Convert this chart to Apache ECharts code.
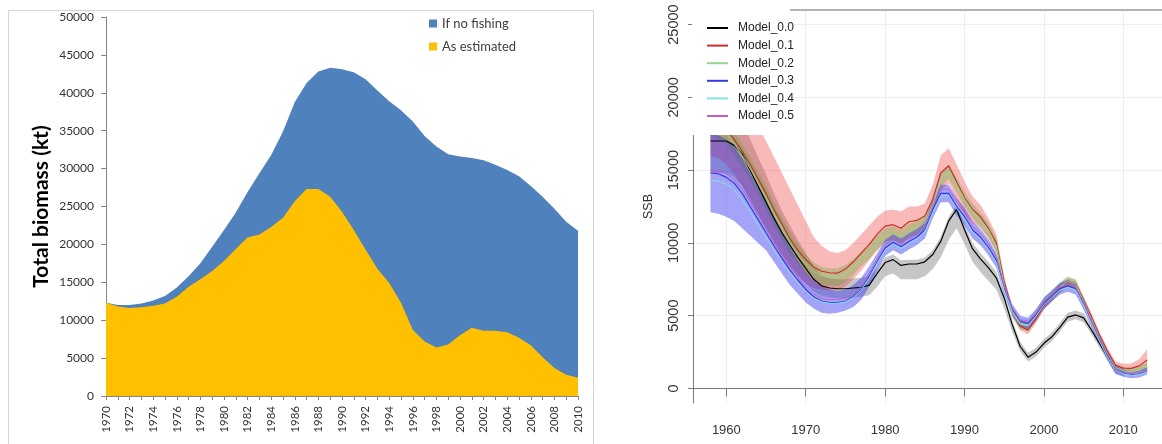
<!DOCTYPE html>
<html><head><meta charset="utf-8">
<script src="https://cdn.jsdelivr.net/npm/echarts@6/dist/echarts.min.js"></script>
<style>html,body{margin:0;padding:0;background:#fff}#c{width:1162px;height:444px}</style>
</head><body><div id="c"></div>
<script>
// ---------- Left panel data (1970-2010) ----------
const yearsL = ['1970','1971','1972','1973','1974','1975','1976','1977','1978','1979','1980','1981','1982','1983','1984','1985','1986','1987','1988','1989','1990','1991','1992','1993','1994','1995','1996','1997','1998','1999','2000','2001','2002','2003','2004','2005','2006','2007','2008','2009','2010'];
const noFishing = [12300,12000,12000,12200,12600,13200,14300,15800,17500,19700,21900,24200,26900,29400,31800,34900,38800,41300,42800,43300,43100,42700,41800,40300,38900,37700,36200,34300,32900,31900,31600,31400,31100,30500,29800,29000,27700,26300,24700,23000,21800];
const asEstimated = [12300,11800,11600,11700,11900,12200,13100,14400,15400,16500,17800,19400,20900,21300,22300,23500,25700,27300,27300,26300,24300,21900,19300,16800,14900,12300,8700,7200,6400,6800,8000,9000,8600,8600,8400,7700,6700,5100,3700,2800,2400];
const leftNames = ['If no fishing','As estimated'];

// ---------- Right panel data (1958-2013) ----------
const yearsR = [1958,1959,1960,1961,1962,1963,1964,1965,1966,1967,1968,1969,1970,1971,1972,1973,1974,1975,1976,1977,1978,1979,1980,1981,1982,1983,1984,1985,1986,1987,1988,1989,1990,1991,1992,1993,1994,1995,1996,1997,1998,1999,2000,2001,2002,2003,2004,2005,2006,2007,2008,2009,2010,2011,2012,2013];
const modelNames = ['Model_0.0','Model_0.1','Model_0.2','Model_0.3','Model_0.4','Model_0.5'];
const xTicksR = [1960,1970,1980,1990,2000,2010];
const yTicksR = [0,5000,10000,15000,20000,25000];

// Model_0.0 (1958-2010)
const m0 = [17000,17000,17000,16700,16100,15000,13900,12800,11700,10700,9850,9000,8250,7500,7050,6900,6850,6850,6900,6950,7100,7900,8650,8850,8450,8550,8550,8700,9200,10100,11500,12300,10900,9600,8900,8300,7600,6200,4400,2900,2150,2500,3100,3550,4200,4900,5050,4850,4000,3100,2200,1300,1050];
const m0lo = [14800,14800,14800,14500,13900,12900,11900,10900,10000,9200,8500,7800,7200,6650,6350,6250,6200,6200,6250,6300,6400,7000,7700,7900,7500,7500,7500,7700,8200,9000,10200,11000,9900,8700,8000,7400,6800,5500,3900,2550,1850,2200,2800,3250,3900,4600,4750,4550,3700,2800,1900,1050,850];
const m0hi = [19200,19200,19200,18900,18300,17100,15900,14700,13400,12200,11200,10200,9300,8400,7800,7550,7500,7500,7550,7600,7750,8200,9000,9200,8800,8850,8850,9000,9500,10400,11800,12600,11300,10000,9300,8700,8000,6500,4700,3200,2450,2800,3400,3850,4500,5200,5350,5150,4300,3400,2500,1550,1250];
// Model_0.1
const m1 = [18500,18200,17800,17100,16300,15400,14400,13400,12300,11300,10300,9500,8850,8350,8050,7950,7920,8200,8700,9300,9900,10600,11150,11250,11000,11450,11550,11850,13000,14800,15300,14200,13100,12300,11800,11000,10000,7300,5300,4300,4000,4800,5700,6300,6900,7300,7150,6000,4900,3650,2550,1600,1400,1380,1550,1950];
const m1lo = [16000,15800,15400,14700,13900,13000,12000,11000,10000,9100,8300,7700,7200,6900,6800,6750,6750,7000,7500,8100,8800,9500,10100,10200,9900,10400,10600,11000,12000,13600,14100,13000,12000,11400,11000,10300,9400,6900,5000,4000,3700,4500,5400,6000,6600,7000,6850,5700,4650,3400,2300,1350,1150,1100,1150,1300];
const m1hi = [22000,21800,21400,20700,19900,19000,18000,17000,15900,14800,13700,12600,11500,10400,9800,9400,9300,9500,10000,10600,11200,11800,12200,12300,12150,12500,12500,12700,14000,16000,16500,15400,14200,13200,12600,11700,10600,7700,5600,4600,4300,5100,6000,6600,7200,7600,7450,6300,5150,3900,2800,1850,1700,1720,2000,2700];
// Model_0.2
const m2 = [18200,17900,17500,16800,16000,15100,14100,13100,12000,11000,10000,9200,8550,8050,7750,7650,7650,7900,8350,8900,9400,10000,10500,10650,10400,10800,11000,11400,12600,14300,14900,14000,13000,12200,11600,10900,9800,7100,5200,4400,4300,5000,5900,6400,6950,7350,7150,5950,4750,3500,2400,1450,1200,1150,1250,1500];
const m2lo = [17400,17100,16700,16000,15200,14300,13300,12300,11200,10200,9200,8500,7900,7450,7150,7050,7050,7300,7800,8400,8900,9500,10000,10150,9900,10300,10500,10900,12100,13800,14400,13500,12500,11700,11100,10400,9300,6700,4850,4050,3950,4650,5550,6050,6600,7000,6800,5600,4450,3200,2100,1200,950,900,1000,1200];
const m2hi = [19000,18700,18300,17600,16800,15900,14900,13900,12800,11800,10800,9900,9200,8650,8350,8250,8250,8500,8900,9400,9900,10500,11000,11150,10900,11300,11500,11900,13100,14800,15400,14500,13500,12700,12100,11400,10300,7500,5550,4750,4650,5350,6250,6750,7300,7700,7500,6300,5050,3800,2700,1700,1450,1400,1500,1800];
// Model_0.3
const m3 = [14800,14750,14500,14100,13400,12500,11600,10700,9800,8950,8150,7450,6800,6300,6000,5900,5900,6000,6300,6800,7700,8700,9650,10050,9750,10100,10400,10900,12300,13400,13400,12500,11800,10900,10400,9700,8800,6900,5400,4600,4450,5050,5850,6350,6850,7050,6850,5800,4550,3350,2250,1300,1050,950,1000,1200];
const m3lo = [12100,12000,11800,11500,11000,10500,10000,9500,8700,7900,7100,6500,5900,5500,5200,5130,5200,5350,5600,6100,7000,8100,9100,9500,9200,9550,9850,10300,11700,12800,12800,11900,11200,10300,9850,9150,8300,6450,5000,4200,4050,4650,5450,5950,6450,6650,6450,5400,4200,3050,1950,1000,800,700,750,950];
const m3hi = [17500,17400,17100,16600,15800,14800,13800,12800,11700,10700,9700,8800,8000,7400,7000,6800,6700,6800,7100,7600,8400,9300,10200,10600,10300,10650,10950,11500,12900,14000,14000,13100,12400,11500,10950,10250,9300,7350,5800,5000,4850,5450,6250,6750,7250,7450,7250,6200,4950,3700,2600,1600,1300,1200,1250,1450];
// Model_0.4 and Model_0.5
const m4 = [14300,14250,14050,13650,13000,12150,11250,10400,9500,8700,7950,7250,6650,6200,5950,5850,5850,5950,6250,6750,7600,8600,9500,9900,9600,9950,10250,10750,12100,13200,13250,12350,11650,10750,10250,9550,8650,6750,5300,4500,4350,4950,5750,6250,6750,6950,6750,5700,4450,3250,2150,1250,1000,900,950,1150];
const m5 = [15000,14950,14750,14350,13700,12800,11900,11000,10100,9200,8400,7650,7000,6500,6200,6100,6100,6200,6500,7000,7900,8900,9850,10250,9950,10300,10600,11100,12500,13650,13700,12800,12050,11150,10650,9950,9050,7050,5550,4700,4550,5150,5950,6450,6950,7150,6950,5900,4650,3450,2350,1350,1100,1000,1050,1250];

// ---------- helpers that hand arrays to the library ----------
const plain = v => String(v);
function pairs(vals){ return vals.map((v,i)=>[yearsR[i], v]); }
function band(lo, hi, fill){
  return {
    type:'custom', xAxisIndex:1, yAxisIndex:1, silent:true, z:2,
    data: lo.map((v,i)=>[yearsR[i], v, hi[i]]),
    renderItem: function(params, api){
      if (params.dataIndex !== 0) return null;
      const pts = [];
      for (let i=0;i<hi.length;i++) pts.push(api.coord([yearsR[i], hi[i]]));
      for (let i=lo.length-1;i>=0;i--) pts.push(api.coord([yearsR[i], lo[i]]));
      return {type:'polygon', shape:{points:pts}, style:{fill:fill}};
    }
  };
}
function line(name, vals, color, w){
  return {
    name:name, type:'line', xAxisIndex:1, yAxisIndex:1, data:pairs(vals),
    symbol:'none', showSymbol:false, z:3, color:color,
    lineStyle:{color:color, width:w}, itemStyle:{color:color}
  };
}
const modelColors = ['#000000','#c8302a','#8fd88f','#3838e6','#7fe6e6','#c45ec4'];

const chart = echarts.init(document.getElementById('c'), null, {renderer:'canvas'});
chart.setOption({
  animation:false,
  backgroundColor:'#ffffff',
  grid:[
    {left:106, top:17, width:472, height:379},
    {left:693, top:10, width:469, height:393}
  ],
  xAxis:[
    {gridIndex:0, type:'category', data:yearsL, boundaryGap:false,
     axisLine:{lineStyle:{color:'#868686'}},
     axisTick:{interval:0, length:4, lineStyle:{color:'#868686'}},
     axisLabel:{interval:1, rotate:90, fontFamily:'Lato', fontSize:11.5, color:'#333333', margin:10},
     splitLine:{show:false}},
    {gridIndex:1, type:'value', min:1955.8, max:2014.87,
     axisLine:{lineStyle:{color:'#7a7a7a'}},
     axisTick:{customValues:xTicksR, length:8, lineStyle:{color:'#7a7a7a'}},
     axisLabel:{customValues:xTicksR, formatter:plain, fontFamily:'Liberation Sans', fontSize:13, color:'#333', margin:21},
     splitLine:{show:true, lineStyle:{color:'#eeeeee'}}},
    {gridIndex:1, type:'value', position:'top', min:1955.8, max:2014.87,
     axisLine:{show:true, lineStyle:{color:'#9a9a9a', width:1.5}},
     axisTick:{show:false}, axisLabel:{show:false}, splitLine:{show:false}}
  ],
  yAxis:[
    {gridIndex:0, type:'value', min:0, max:50000, interval:5000,
     name:'Total biomass (kt)', nameLocation:'middle', nameGap:54,
     nameTextStyle:{fontFamily:'Lato', fontWeight:'bold', fontSize:21, color:'#000'},
     axisLine:{show:true, lineStyle:{color:'#868686'}},
     axisTick:{show:true, length:5, lineStyle:{color:'#868686'}},
     axisLabel:{formatter:plain, fontFamily:'Lato', fontSize:12, color:'#333333', margin:12},
     splitLine:{show:false}},
    {gridIndex:1, type:'value', min:-1000, max:26000,
     name:'SSB', nameLocation:'middle', nameGap:38,
     nameTextStyle:{fontFamily:'Liberation Sans', fontSize:12.5, color:'#333'},
     axisLine:{show:true, lineStyle:{color:'#7a7a7a'}},
     axisTick:{show:true, customValues:yTicksR, length:5, lineStyle:{color:'#7a7a7a'}},
     axisLabel:{customValues:yTicksR, formatter:plain, rotate:90, fontFamily:'Liberation Sans', fontSize:14.5, color:'#333', margin:12},
     splitLine:{show:true, lineStyle:{color:'#eeeeee'}}}
  ],
  legend:[
    {data:leftNames, orient:'vertical', left:424, top:12, itemWidth:8, itemHeight:8, itemGap:10, icon:'rect',
     textStyle:{fontFamily:'Lato', fontSize:13, color:'#404040'}, selectedMode:false},
    {data:modelNames, orient:'vertical', left:702, top:16, itemWidth:21, itemHeight:2, itemGap:3.6, icon:'rect', z:110,
     textStyle:{fontFamily:'Liberation Sans', fontSize:12, color:'#222', padding:[0,0,0,5], lineHeight:14}, selectedMode:false}
  ],
  graphic:[
    {type:'rect', left:6, top:8, shape:{width:585, height:460}, style:{fill:'none', stroke:'#d4d4d4', lineWidth:1}, z:-1, silent:true},
    {type:'rect', left:692, top:0, shape:{width:98, height:135}, style:{fill:'#ffffff'}, z:100, silent:true}
  ],
  series:[
    {name:leftNames[0], type:'line', xAxisIndex:0, yAxisIndex:0, data:noFishing, symbol:'none',
     color:'#4f81bd', lineStyle:{width:0}, areaStyle:{color:'#4f81bd', opacity:1}, itemStyle:{color:'#4f81bd'}},
    {name:leftNames[1], type:'line', xAxisIndex:0, yAxisIndex:0, data:asEstimated, symbol:'none',
     color:'#ffc000', lineStyle:{width:0}, areaStyle:{color:'#ffc000', opacity:1}, itemStyle:{color:'#ffc000'}},
    band(m0lo, m0hi, 'rgba(120,120,120,0.42)'),
    band(m1lo, m1hi, 'rgba(240,70,70,0.38)'),
    band(m2lo, m2hi, 'rgba(80,170,40,0.32)'),
    band(m3lo, m3hi, 'rgba(50,50,240,0.45)'),
    line(modelNames[0], m0, modelColors[0], 1.2),
    line(modelNames[1], m1, modelColors[1], 1.2),
    line(modelNames[2], m2, modelColors[2], 1),
    line(modelNames[3], m3, modelColors[3], 1.2),
    line(modelNames[4], m4, modelColors[4], 1),
    line(modelNames[5], m5, modelColors[5], 1)
  ]
});
</script></body></html>
